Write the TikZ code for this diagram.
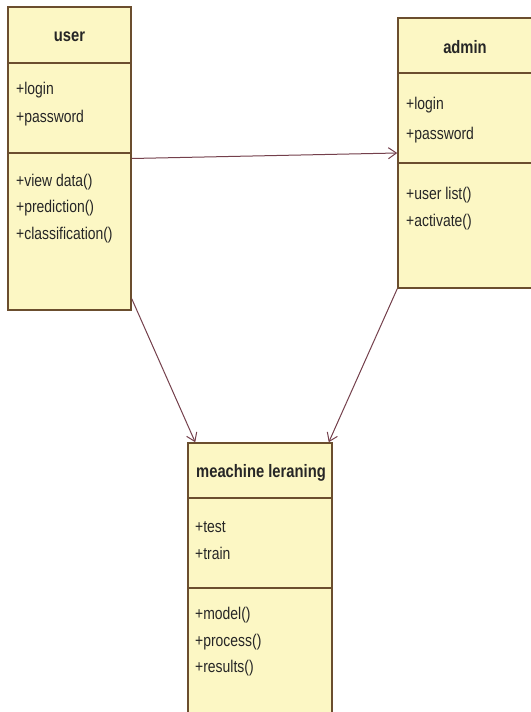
\documentclass[tikz,border=0pt]{standalone}
\usepackage{fontspec}
\setmainfont{Liberation Sans}[FakeStretch=0.82]
\usepackage{xcolor}
\usepackage{tikz}
\usetikzlibrary{arrows.meta}

\definecolor{boxfill}{HTML}{FCF7C4}
\definecolor{boxline}{HTML}{6B4E2E}
\definecolor{assocline}{HTML}{74404C}

\tikzset{
  classbox/.style={draw=boxline, fill=boxfill, line width=1.5pt, inner sep=0pt},
  sepline/.style={draw=boxline, line width=1.5pt},
  ctitle/.style={font=\fontsize{18}{21}\selectfont\bfseries, text=black!85},
  member/.style={anchor=west, inner sep=0pt, font=\fontsize{17}{20}\selectfont, text=black!85},
  assoc/.style={draw=assocline, line width=1pt, -{Straight Barb[length=8pt, width=11pt]}}
}

\begin{document}
\begin{tikzpicture}[x=1pt, y=-1pt]
      \useasboundingbox (0,0) rectangle (530,712);
      \fill[white] (0,0) rectangle (530,712);

      \node[classbox, minimum width=123pt, minimum height=303pt] (user) at (69.5,158.5) {};
      \draw[sepline] (8,63) -- (131,63);
      \draw[sepline] (8,153) -- (131,153);
      \node[ctitle] (usertitle) at (69.5,37) {user};
      \node[member] (ulogin) at (16,90) {+login};
      \node[member] (upass) at (16,118) {+password};
      \node[member] (uview) at (16,182) {+view data()};
      \node[member] (upred) at (16,208) {+prediction()};
      \node[member] (uclass) at (16,235) {+classification()};

      \node[classbox, minimum width=137pt, minimum height=270pt] (admin) at (466.5,153) {};
      \draw[sepline] (398,73) -- (536,73);
      \draw[sepline] (398,163) -- (536,163);
      \node[ctitle] (admintitle) at (465,47) {admin};
      \node[member] (alogin) at (406,105) {+login};
      \node[member] (apass) at (406,135) {+password};
      \node[member] (alist) at (406,195) {+user list()};
      \node[member] (aact) at (406,222) {+activate()};

      \node[classbox, minimum width=144pt, minimum height=276pt] (ml) at (260,581) {};
      \draw[sepline] (188,498) -- (332,498);
      \draw[sepline] (188,588) -- (332,588);
      \node[ctitle] (mltitle) at (261,473) {meachine leraning};
      \node[member] (mtest) at (195,527) {+test};
      \node[member] (mtrain) at (195,553) {+train};
      \node[member] (mmodel) at (195,615) {+model()};
      \node[member] (mproc) at (195,642) {+process()};
      \node[member] (mres) at (195,668) {+results()};

      \draw[assoc] (user.east) -- (admin.west);
      \draw[assoc] ([yshift=12pt]user.south east) -- ([xshift=8pt]ml.north west);
      \draw[assoc] (admin.south west) -- ([xshift=-4pt]ml.north east);
    \end{tikzpicture}
\end{document}
